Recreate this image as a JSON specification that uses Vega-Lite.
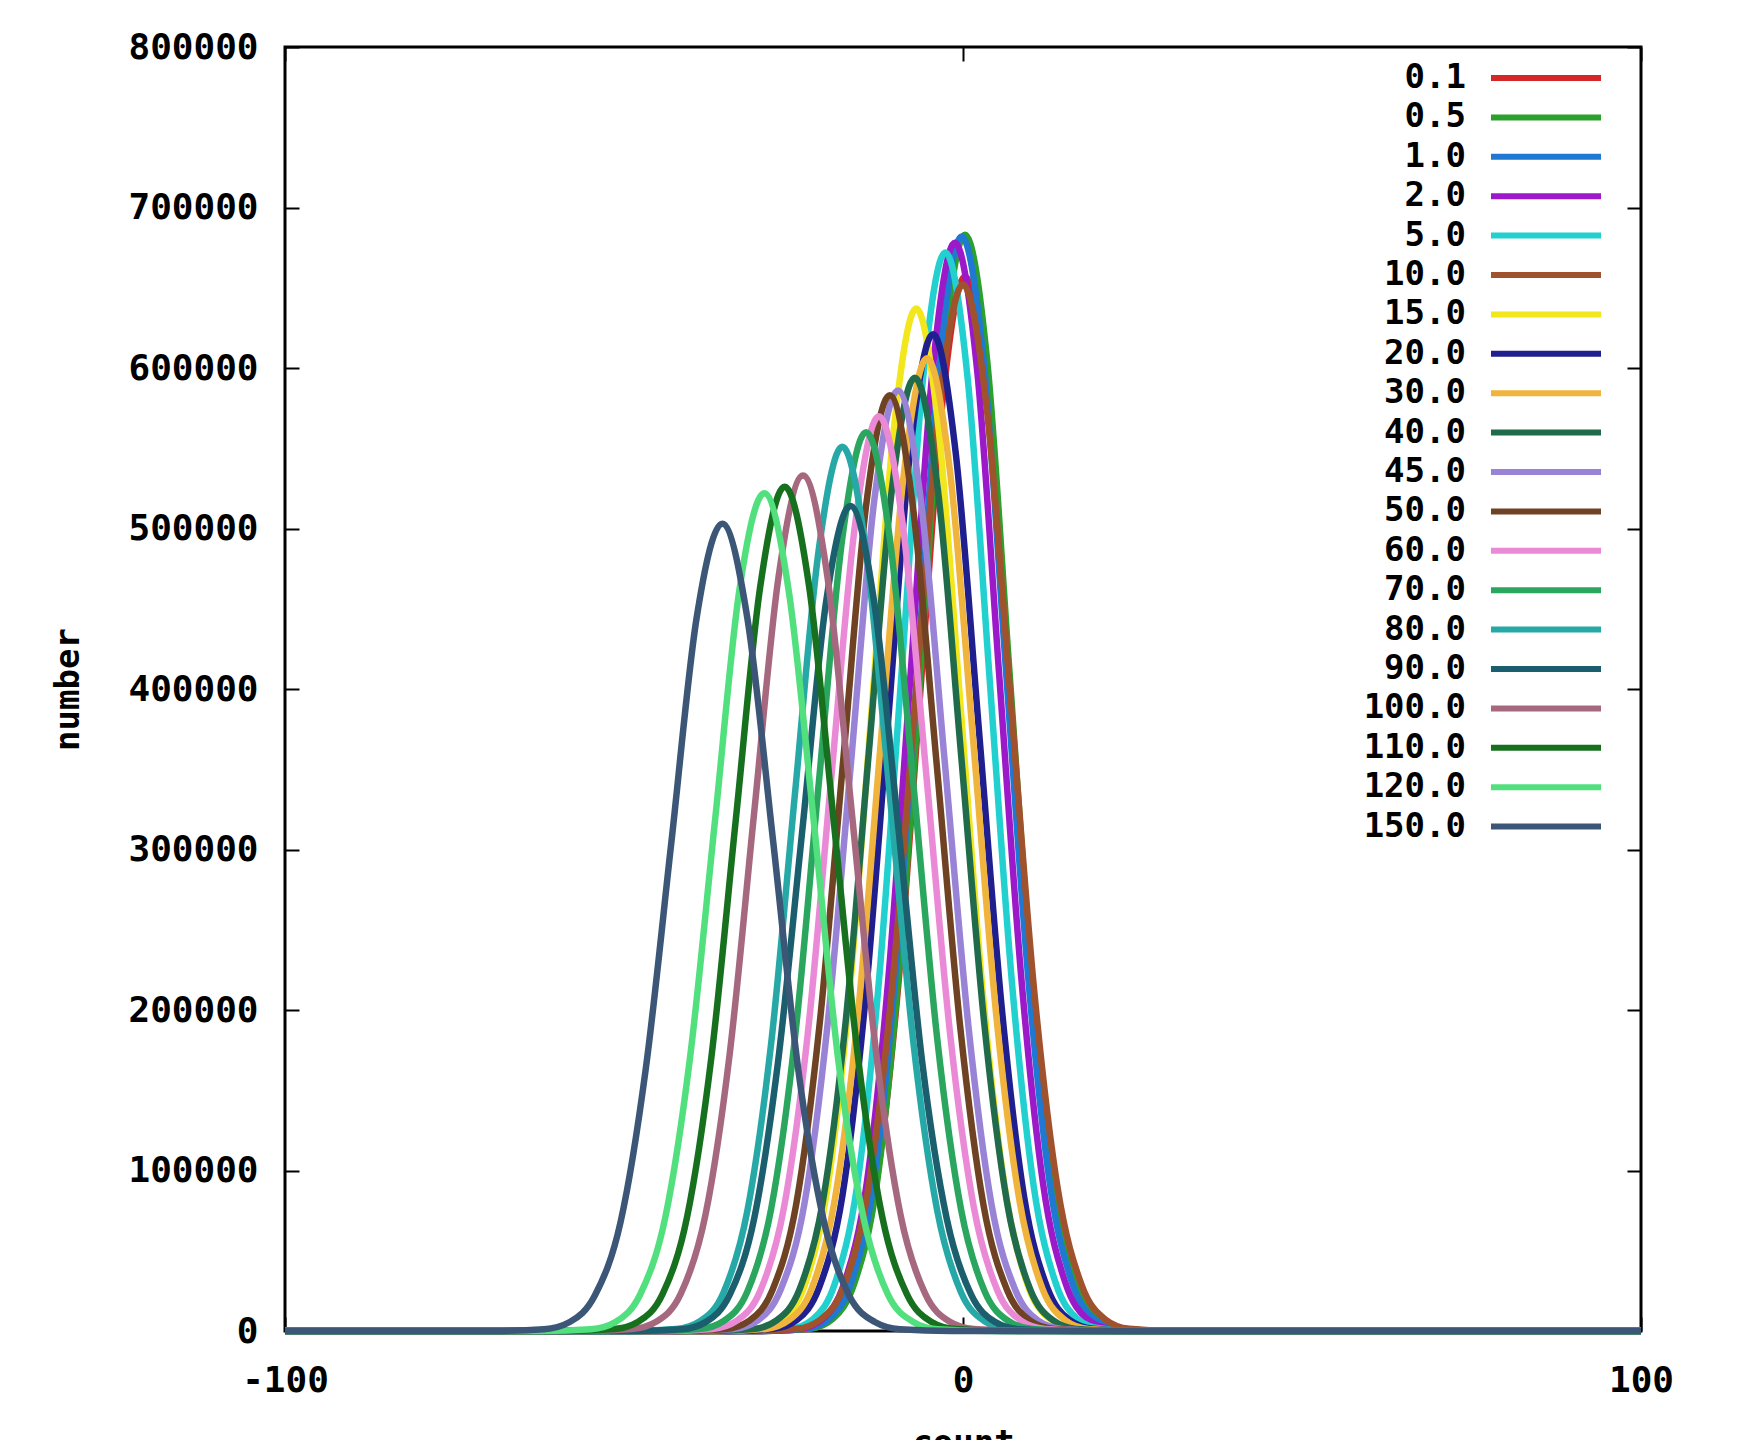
{
"$schema": "https://vega.github.io/schema/vega-lite/v6.json",
"width": 1356, "height": 1284,
"autosize": {"type": "none"},
"padding": {"left": 285, "top": 47, "right": 104, "bottom": 109},
"background": "white",
"config": {
  "view": {"stroke": "black", "strokeWidth": 3},
  "font": "DejaVu Sans Mono",
  "axis": {"labelFont": "DejaVu Sans Mono", "labelFontWeight": "bold", "labelColor": "black", "titleFont": "DejaVu Sans Mono", "titleFontWeight": "bold", "titleColor": "black", "grid": false, "domain": false, "tickColor": "black", "tickWidth": 2, "tickSize": -14, "labelFlush": false}
},
"datasets": {"d": [
{"s":"0.1","x":-100,"y":0},{"s":"0.1","x":-29.4,"y":0},{"s":"0.1","x":-22.8,"y":1400},{"s":"0.1","x":-19.5,"y":7300},{"s":"0.1","x":-16.2,"y":29000},{"s":"0.1","x":-12.9,"y":89000},{"s":"0.1","x":-9.6,"y":213000},{"s":"0.1","x":-6.3,"y":398000},{"s":"0.1","x":-3.0,"y":580000},{"s":"0.1","x":0.3,"y":657000},{"s":"0.1","x":3.6,"y":580000},{"s":"0.1","x":6.9,"y":398000},{"s":"0.1","x":10.2,"y":213000},{"s":"0.1","x":13.5,"y":89000},{"s":"0.1","x":16.8,"y":29000},{"s":"0.1","x":20.1,"y":7300},{"s":"0.1","x":23.4,"y":1400},{"s":"0.1","x":30.0,"y":0},{"s":"0.1","x":100,"y":0},
{"s":"0.5","x":-100,"y":0},{"s":"0.5","x":-29.0,"y":0},{"s":"0.5","x":-22.5,"y":1500},{"s":"0.5","x":-19.2,"y":7600},{"s":"0.5","x":-16.0,"y":30000},{"s":"0.5","x":-12.7,"y":92000},{"s":"0.5","x":-9.5,"y":222000},{"s":"0.5","x":-6.2,"y":414000},{"s":"0.5","x":-3.0,"y":603000},{"s":"0.5","x":0.3,"y":683000},{"s":"0.5","x":3.6,"y":603000},{"s":"0.5","x":6.8,"y":414000},{"s":"0.5","x":10.1,"y":222000},{"s":"0.5","x":13.3,"y":92000},{"s":"0.5","x":16.6,"y":30000},{"s":"0.5","x":19.8,"y":7600},{"s":"0.5","x":23.1,"y":1500},{"s":"0.5","x":29.6,"y":0},{"s":"0.5","x":100,"y":0},
{"s":"1.0","x":-100,"y":0},{"s":"1.0","x":-29.5,"y":0},{"s":"1.0","x":-23.0,"y":1500},{"s":"1.0","x":-19.7,"y":7600},{"s":"1.0","x":-16.5,"y":30000},{"s":"1.0","x":-13.2,"y":92000},{"s":"1.0","x":-10.0,"y":221000},{"s":"1.0","x":-6.7,"y":414000},{"s":"1.0","x":-3.5,"y":602000},{"s":"1.0","x":-0.2,"y":682000},{"s":"1.0","x":3.1,"y":602000},{"s":"1.0","x":6.3,"y":414000},{"s":"1.0","x":9.6,"y":221000},{"s":"1.0","x":12.8,"y":92000},{"s":"1.0","x":16.1,"y":30000},{"s":"1.0","x":19.3,"y":7600},{"s":"1.0","x":22.6,"y":1500},{"s":"1.0","x":29.1,"y":0},{"s":"1.0","x":100,"y":0},
{"s":"2.0","x":-100,"y":0},{"s":"2.0","x":-30.5,"y":0},{"s":"2.0","x":-24.0,"y":1500},{"s":"2.0","x":-20.7,"y":7500},{"s":"2.0","x":-17.5,"y":30000},{"s":"2.0","x":-14.2,"y":92000},{"s":"2.0","x":-11.0,"y":220000},{"s":"2.0","x":-7.7,"y":411000},{"s":"2.0","x":-4.5,"y":598000},{"s":"2.0","x":-1.2,"y":678000},{"s":"2.0","x":2.1,"y":598000},{"s":"2.0","x":5.3,"y":411000},{"s":"2.0","x":8.6,"y":220000},{"s":"2.0","x":11.8,"y":92000},{"s":"2.0","x":15.1,"y":30000},{"s":"2.0","x":18.3,"y":7500},{"s":"2.0","x":21.6,"y":1500},{"s":"2.0","x":28.1,"y":0},{"s":"2.0","x":100,"y":0},
{"s":"5.0","x":-100,"y":0},{"s":"5.0","x":-31.9,"y":0},{"s":"5.0","x":-25.4,"y":1500},{"s":"5.0","x":-22.1,"y":7500},{"s":"5.0","x":-18.9,"y":29500},{"s":"5.0","x":-15.6,"y":91000},{"s":"5.0","x":-12.4,"y":218000},{"s":"5.0","x":-9.1,"y":408000},{"s":"5.0","x":-5.9,"y":593000},{"s":"5.0","x":-2.6,"y":672000},{"s":"5.0","x":0.7,"y":593000},{"s":"5.0","x":3.9,"y":408000},{"s":"5.0","x":7.2,"y":218000},{"s":"5.0","x":10.4,"y":91000},{"s":"5.0","x":13.7,"y":29500},{"s":"5.0","x":16.9,"y":7500},{"s":"5.0","x":20.2,"y":1500},{"s":"5.0","x":26.7,"y":0},{"s":"5.0","x":100,"y":0},
{"s":"10.0","x":-100,"y":0},{"s":"10.0","x":-31.5,"y":0},{"s":"10.0","x":-24.5,"y":1400},{"s":"10.0","x":-21.0,"y":7200},{"s":"10.0","x":-17.5,"y":28600},{"s":"10.0","x":-14.0,"y":88000},{"s":"10.0","x":-10.5,"y":212000},{"s":"10.0","x":-7.0,"y":395000},{"s":"10.0","x":-3.5,"y":575000},{"s":"10.0","x":0.0,"y":652000},{"s":"10.0","x":3.5,"y":575000},{"s":"10.0","x":7.0,"y":395000},{"s":"10.0","x":10.5,"y":212000},{"s":"10.0","x":14.0,"y":88000},{"s":"10.0","x":17.5,"y":28600},{"s":"10.0","x":21.0,"y":7200},{"s":"10.0","x":24.5,"y":1400},{"s":"10.0","x":31.5,"y":0},{"s":"10.0","x":100,"y":0},
{"s":"15.0","x":-100,"y":0},{"s":"15.0","x":-36.6,"y":0},{"s":"15.0","x":-30.0,"y":1400},{"s":"15.0","x":-26.7,"y":7100},{"s":"15.0","x":-23.4,"y":28000},{"s":"15.0","x":-20.1,"y":86000},{"s":"15.0","x":-16.8,"y":207000},{"s":"15.0","x":-13.5,"y":386000},{"s":"15.0","x":-10.2,"y":562000},{"s":"15.0","x":-6.9,"y":637000},{"s":"15.0","x":-3.6,"y":562000},{"s":"15.0","x":-0.3,"y":386000},{"s":"15.0","x":3.0,"y":207000},{"s":"15.0","x":6.3,"y":86000},{"s":"15.0","x":9.6,"y":28000},{"s":"15.0","x":12.9,"y":7100},{"s":"15.0","x":16.2,"y":1400},{"s":"15.0","x":22.8,"y":0},{"s":"15.0","x":100,"y":0},
{"s":"20.0","x":-100,"y":0},{"s":"20.0","x":-34.6,"y":0},{"s":"20.0","x":-27.9,"y":1400},{"s":"20.0","x":-24.5,"y":6900},{"s":"20.0","x":-21.2,"y":27300},{"s":"20.0","x":-17.8,"y":84000},{"s":"20.0","x":-14.5,"y":202000},{"s":"20.0","x":-11.1,"y":377000},{"s":"20.0","x":-7.8,"y":548000},{"s":"20.0","x":-4.4,"y":621000},{"s":"20.0","x":-1.1,"y":548000},{"s":"20.0","x":2.3,"y":377000},{"s":"20.0","x":5.7,"y":202000},{"s":"20.0","x":9.0,"y":84000},{"s":"20.0","x":12.4,"y":27300},{"s":"20.0","x":15.7,"y":6900},{"s":"20.0","x":19.1,"y":1400},{"s":"20.0","x":25.8,"y":0},{"s":"20.0","x":100,"y":0},
{"s":"30.0","x":-100,"y":0},{"s":"30.0","x":-35.9,"y":0},{"s":"30.0","x":-29.1,"y":1300},{"s":"30.0","x":-25.7,"y":6700},{"s":"30.0","x":-22.3,"y":26600},{"s":"30.0","x":-18.9,"y":82000},{"s":"30.0","x":-15.5,"y":197000},{"s":"30.0","x":-12.1,"y":368000},{"s":"30.0","x":-8.7,"y":535000},{"s":"30.0","x":-5.3,"y":606000},{"s":"30.0","x":-1.9,"y":535000},{"s":"30.0","x":1.5,"y":368000},{"s":"30.0","x":4.9,"y":197000},{"s":"30.0","x":8.3,"y":82000},{"s":"30.0","x":11.7,"y":26600},{"s":"30.0","x":15.1,"y":6700},{"s":"30.0","x":18.5,"y":1300},{"s":"30.0","x":25.3,"y":0},{"s":"30.0","x":100,"y":0},
{"s":"40.0","x":-100,"y":0},{"s":"40.0","x":-37.7,"y":0},{"s":"40.0","x":-30.9,"y":1300},{"s":"40.0","x":-27.5,"y":6600},{"s":"40.0","x":-24.1,"y":26000},{"s":"40.0","x":-20.7,"y":80000},{"s":"40.0","x":-17.3,"y":193000},{"s":"40.0","x":-13.9,"y":360000},{"s":"40.0","x":-10.5,"y":524000},{"s":"40.0","x":-7.1,"y":594000},{"s":"40.0","x":-3.7,"y":524000},{"s":"40.0","x":-0.3,"y":360000},{"s":"40.0","x":3.1,"y":193000},{"s":"40.0","x":6.5,"y":80000},{"s":"40.0","x":9.9,"y":26000},{"s":"40.0","x":13.3,"y":6600},{"s":"40.0","x":16.7,"y":1300},{"s":"40.0","x":23.5,"y":0},{"s":"40.0","x":100,"y":0},
{"s":"45.0","x":-100,"y":0},{"s":"45.0","x":-40.7,"y":0},{"s":"45.0","x":-33.8,"y":1300},{"s":"45.0","x":-30.3,"y":6500},{"s":"45.0","x":-26.9,"y":25700},{"s":"45.0","x":-23.4,"y":79000},{"s":"45.0","x":-20.0,"y":190000},{"s":"45.0","x":-16.5,"y":355000},{"s":"45.0","x":-13.1,"y":517000},{"s":"45.0","x":-9.6,"y":586000},{"s":"45.0","x":-6.2,"y":517000},{"s":"45.0","x":-2.7,"y":355000},{"s":"45.0","x":0.8,"y":190000},{"s":"45.0","x":4.2,"y":79000},{"s":"45.0","x":7.7,"y":25700},{"s":"45.0","x":11.1,"y":6500},{"s":"45.0","x":14.6,"y":1300},{"s":"45.0","x":21.5,"y":0},{"s":"45.0","x":100,"y":0},
{"s":"50.0","x":-100,"y":0},{"s":"50.0","x":-41.9,"y":0},{"s":"50.0","x":-35.0,"y":1300},{"s":"50.0","x":-31.5,"y":6500},{"s":"50.0","x":-28.1,"y":25600},{"s":"50.0","x":-24.6,"y":79000},{"s":"50.0","x":-21.2,"y":189000},{"s":"50.0","x":-17.7,"y":354000},{"s":"50.0","x":-14.3,"y":514000},{"s":"50.0","x":-10.8,"y":583000},{"s":"50.0","x":-7.4,"y":514000},{"s":"50.0","x":-3.9,"y":354000},{"s":"50.0","x":-0.4,"y":189000},{"s":"50.0","x":3.0,"y":79000},{"s":"50.0","x":6.5,"y":25600},{"s":"50.0","x":9.9,"y":6500},{"s":"50.0","x":13.4,"y":1300},{"s":"50.0","x":20.3,"y":0},{"s":"50.0","x":100,"y":0},
{"s":"60.0","x":-100,"y":0},{"s":"60.0","x":-43.9,"y":0},{"s":"60.0","x":-36.9,"y":1300},{"s":"60.0","x":-33.4,"y":6300},{"s":"60.0","x":-29.9,"y":25000},{"s":"60.0","x":-26.4,"y":77000},{"s":"60.0","x":-22.9,"y":185000},{"s":"60.0","x":-19.4,"y":346000},{"s":"60.0","x":-15.9,"y":503000},{"s":"60.0","x":-12.4,"y":570000},{"s":"60.0","x":-8.9,"y":503000},{"s":"60.0","x":-5.4,"y":346000},{"s":"60.0","x":-1.9,"y":185000},{"s":"60.0","x":1.6,"y":77000},{"s":"60.0","x":5.1,"y":25000},{"s":"60.0","x":8.6,"y":6300},{"s":"60.0","x":12.1,"y":1300},{"s":"60.0","x":19.1,"y":0},{"s":"60.0","x":100,"y":0},
{"s":"70.0","x":-100,"y":0},{"s":"70.0","x":-45.8,"y":0},{"s":"70.0","x":-38.8,"y":1200},{"s":"70.0","x":-35.3,"y":6200},{"s":"70.0","x":-31.8,"y":24600},{"s":"70.0","x":-28.3,"y":76000},{"s":"70.0","x":-24.8,"y":182000},{"s":"70.0","x":-21.3,"y":340000},{"s":"70.0","x":-17.8,"y":494000},{"s":"70.0","x":-14.3,"y":560000},{"s":"70.0","x":-10.8,"y":494000},{"s":"70.0","x":-7.3,"y":340000},{"s":"70.0","x":-3.8,"y":182000},{"s":"70.0","x":-0.3,"y":76000},{"s":"70.0","x":3.2,"y":24600},{"s":"70.0","x":6.7,"y":6200},{"s":"70.0","x":10.2,"y":1200},{"s":"70.0","x":17.2,"y":0},{"s":"70.0","x":100,"y":0},
{"s":"80.0","x":-100,"y":0},{"s":"80.0","x":-49.3,"y":0},{"s":"80.0","x":-42.3,"y":1200},{"s":"80.0","x":-38.8,"y":6100},{"s":"80.0","x":-35.3,"y":24200},{"s":"80.0","x":-31.8,"y":75000},{"s":"80.0","x":-28.3,"y":179000},{"s":"80.0","x":-24.8,"y":334000},{"s":"80.0","x":-21.3,"y":486000},{"s":"80.0","x":-17.8,"y":551000},{"s":"80.0","x":-14.3,"y":486000},{"s":"80.0","x":-10.8,"y":334000},{"s":"80.0","x":-7.3,"y":179000},{"s":"80.0","x":-3.8,"y":75000},{"s":"80.0","x":-0.3,"y":24200},{"s":"80.0","x":3.2,"y":6100},{"s":"80.0","x":6.7,"y":1200},{"s":"80.0","x":13.7,"y":0},{"s":"80.0","x":100,"y":0},
{"s":"90.0","x":-100,"y":0},{"s":"90.0","x":-48.6,"y":0},{"s":"90.0","x":-41.5,"y":1100},{"s":"90.0","x":-37.9,"y":5700},{"s":"90.0","x":-34.4,"y":22600},{"s":"90.0","x":-30.8,"y":70000},{"s":"90.0","x":-27.3,"y":167000},{"s":"90.0","x":-23.7,"y":312000},{"s":"90.0","x":-20.2,"y":454000},{"s":"90.0","x":-16.6,"y":514000},{"s":"90.0","x":-13.1,"y":454000},{"s":"90.0","x":-9.5,"y":312000},{"s":"90.0","x":-6.0,"y":167000},{"s":"90.0","x":-2.4,"y":70000},{"s":"90.0","x":1.2,"y":22600},{"s":"90.0","x":4.7,"y":5700},{"s":"90.0","x":8.3,"y":1100},{"s":"90.0","x":15.4,"y":0},{"s":"90.0","x":100,"y":0},
{"s":"100.0","x":-100,"y":0},{"s":"100.0","x":-56.0,"y":0},{"s":"100.0","x":-48.8,"y":1200},{"s":"100.0","x":-45.2,"y":5900},{"s":"100.0","x":-41.6,"y":23400},{"s":"100.0","x":-38.0,"y":72000},{"s":"100.0","x":-34.4,"y":173000},{"s":"100.0","x":-30.8,"y":323000},{"s":"100.0","x":-27.2,"y":470000},{"s":"100.0","x":-23.6,"y":533000},{"s":"100.0","x":-20.0,"y":470000},{"s":"100.0","x":-16.4,"y":323000},{"s":"100.0","x":-12.8,"y":173000},{"s":"100.0","x":-9.2,"y":72000},{"s":"100.0","x":-5.6,"y":23400},{"s":"100.0","x":-2.0,"y":5900},{"s":"100.0","x":1.6,"y":1200},{"s":"100.0","x":8.8,"y":0},{"s":"100.0","x":100,"y":0},
{"s":"110.0","x":-100,"y":0},{"s":"110.0","x":-58.7,"y":0},{"s":"110.0","x":-51.5,"y":1200},{"s":"110.0","x":-47.9,"y":5800},{"s":"110.0","x":-44.3,"y":23100},{"s":"110.0","x":-40.7,"y":71000},{"s":"110.0","x":-37.1,"y":171000},{"s":"110.0","x":-33.5,"y":319000},{"s":"110.0","x":-29.9,"y":464000},{"s":"110.0","x":-26.3,"y":526000},{"s":"110.0","x":-22.7,"y":464000},{"s":"110.0","x":-19.1,"y":319000},{"s":"110.0","x":-15.5,"y":171000},{"s":"110.0","x":-11.9,"y":71000},{"s":"110.0","x":-8.3,"y":23100},{"s":"110.0","x":-4.7,"y":5800},{"s":"110.0","x":-1.1,"y":1200},{"s":"110.0","x":6.1,"y":0},{"s":"110.0","x":100,"y":0},
{"s":"120.0","x":-100,"y":0},{"s":"120.0","x":-62.2,"y":0},{"s":"120.0","x":-54.9,"y":1100},{"s":"120.0","x":-51.2,"y":5800},{"s":"120.0","x":-47.6,"y":22900},{"s":"120.0","x":-43.9,"y":71000},{"s":"120.0","x":-40.3,"y":169000},{"s":"120.0","x":-36.6,"y":317000},{"s":"120.0","x":-33.0,"y":461000},{"s":"120.0","x":-29.3,"y":522000},{"s":"120.0","x":-25.7,"y":461000},{"s":"120.0","x":-22.0,"y":317000},{"s":"120.0","x":-18.4,"y":169000},{"s":"120.0","x":-14.7,"y":71000},{"s":"120.0","x":-11.1,"y":22900},{"s":"120.0","x":-7.4,"y":5800},{"s":"120.0","x":-3.8,"y":1100},{"s":"120.0","x":3.6,"y":0},{"s":"120.0","x":100,"y":0},
{"s":"150.0","x":-100,"y":0},{"s":"150.0","x":-69.3,"y":0},{"s":"150.0","x":-61.8,"y":1100},{"s":"150.0","x":-58.0,"y":5600},{"s":"150.0","x":-54.3,"y":22100},{"s":"150.0","x":-50.5,"y":68000},{"s":"150.0","x":-46.8,"y":163000},{"s":"150.0","x":-43.0,"y":305000},{"s":"150.0","x":-39.3,"y":444000},{"s":"150.0","x":-35.5,"y":503000},{"s":"150.0","x":-31.8,"y":444000},{"s":"150.0","x":-28.0,"y":305000},{"s":"150.0","x":-24.3,"y":163000},{"s":"150.0","x":-20.5,"y":68000},{"s":"150.0","x":-16.8,"y":22100},{"s":"150.0","x":-13.0,"y":5600},{"s":"150.0","x":-9.3,"y":1100},{"s":"150.0","x":-1.8,"y":0},{"s":"150.0","x":100,"y":0}
]},
"data": {"name": "d"},
"layer": [
  {
    "mark": {"type": "line", "interpolate": "monotone", "strokeWidth": 6.5},
    "encoding": {
      "x": {"field": "x", "type": "quantitative", "scale": {"domain": [-100, 100], "nice": false, "zero": false},
            "axis": {"orient": "bottom", "values": [-100, 0, 100], "labelExpr": "'' + datum.value", "labelFontSize": 36, "labelPadding": 46, "title": "count", "titleFontSize": 34, "titlePadding": 28}},
      "y": {"field": "y", "type": "quantitative", "scale": {"domain": [0, 800000], "nice": false},
            "axis": {"orient": "left", "values": [0, 100000, 200000, 300000, 400000, 500000, 600000, 700000, 800000], "format": "d", "labelFontSize": 36, "labelPadding": 41, "title": "number", "titleFontSize": 34, "titlePadding": 42}},
      "color": {"field": "s", "type": "nominal",
        "scale": {"domain": ["0.1","0.5","1.0","2.0","5.0","10.0","15.0","20.0","30.0","40.0","45.0","50.0","60.0","70.0","80.0","90.0","100.0","110.0","120.0","150.0"],
                  "range": ["#d62728","#2ca02c","#1f78d1","#9b19c9","#22d0d0","#a0522d","#f2e61c","#1f1f8f","#f0b43c","#206b4c","#9883d6","#6e4222","#ea8ad6","#2aa65f","#26a9a6","#1b5e6e","#a6687e","#17701e","#52e07e","#3b5676"]},
        "legend": {"orient": "none", "legendX": 1244, "legendY": 14, "title": null, "symbolType": "M-5,0H5", "symbolSize": 484, "symbolStrokeWidth": 6, "labelAlign": "right", "labelOffset": -97, "labelFont": "DejaVu Sans Mono", "labelFontSize": 34, "labelFontWeight": "bold", "labelColor": "black", "rowPadding": 5.4, "padding": 0}}
    }
  },
  {
    "mark": {"type": "point", "opacity": 0},
    "encoding": {
      "x": {"field": "x", "type": "quantitative", "axis": {"orient": "top", "values": [-100, 0, 100], "labels": false, "title": null}},
      "y": {"field": "y", "type": "quantitative", "axis": {"orient": "right", "values": [0, 100000, 200000, 300000, 400000, 500000, 600000, 700000, 800000], "labels": false, "title": null}}
    }
  }
],
"resolve": {"axis": {"x": "independent", "y": "independent"}}
}
